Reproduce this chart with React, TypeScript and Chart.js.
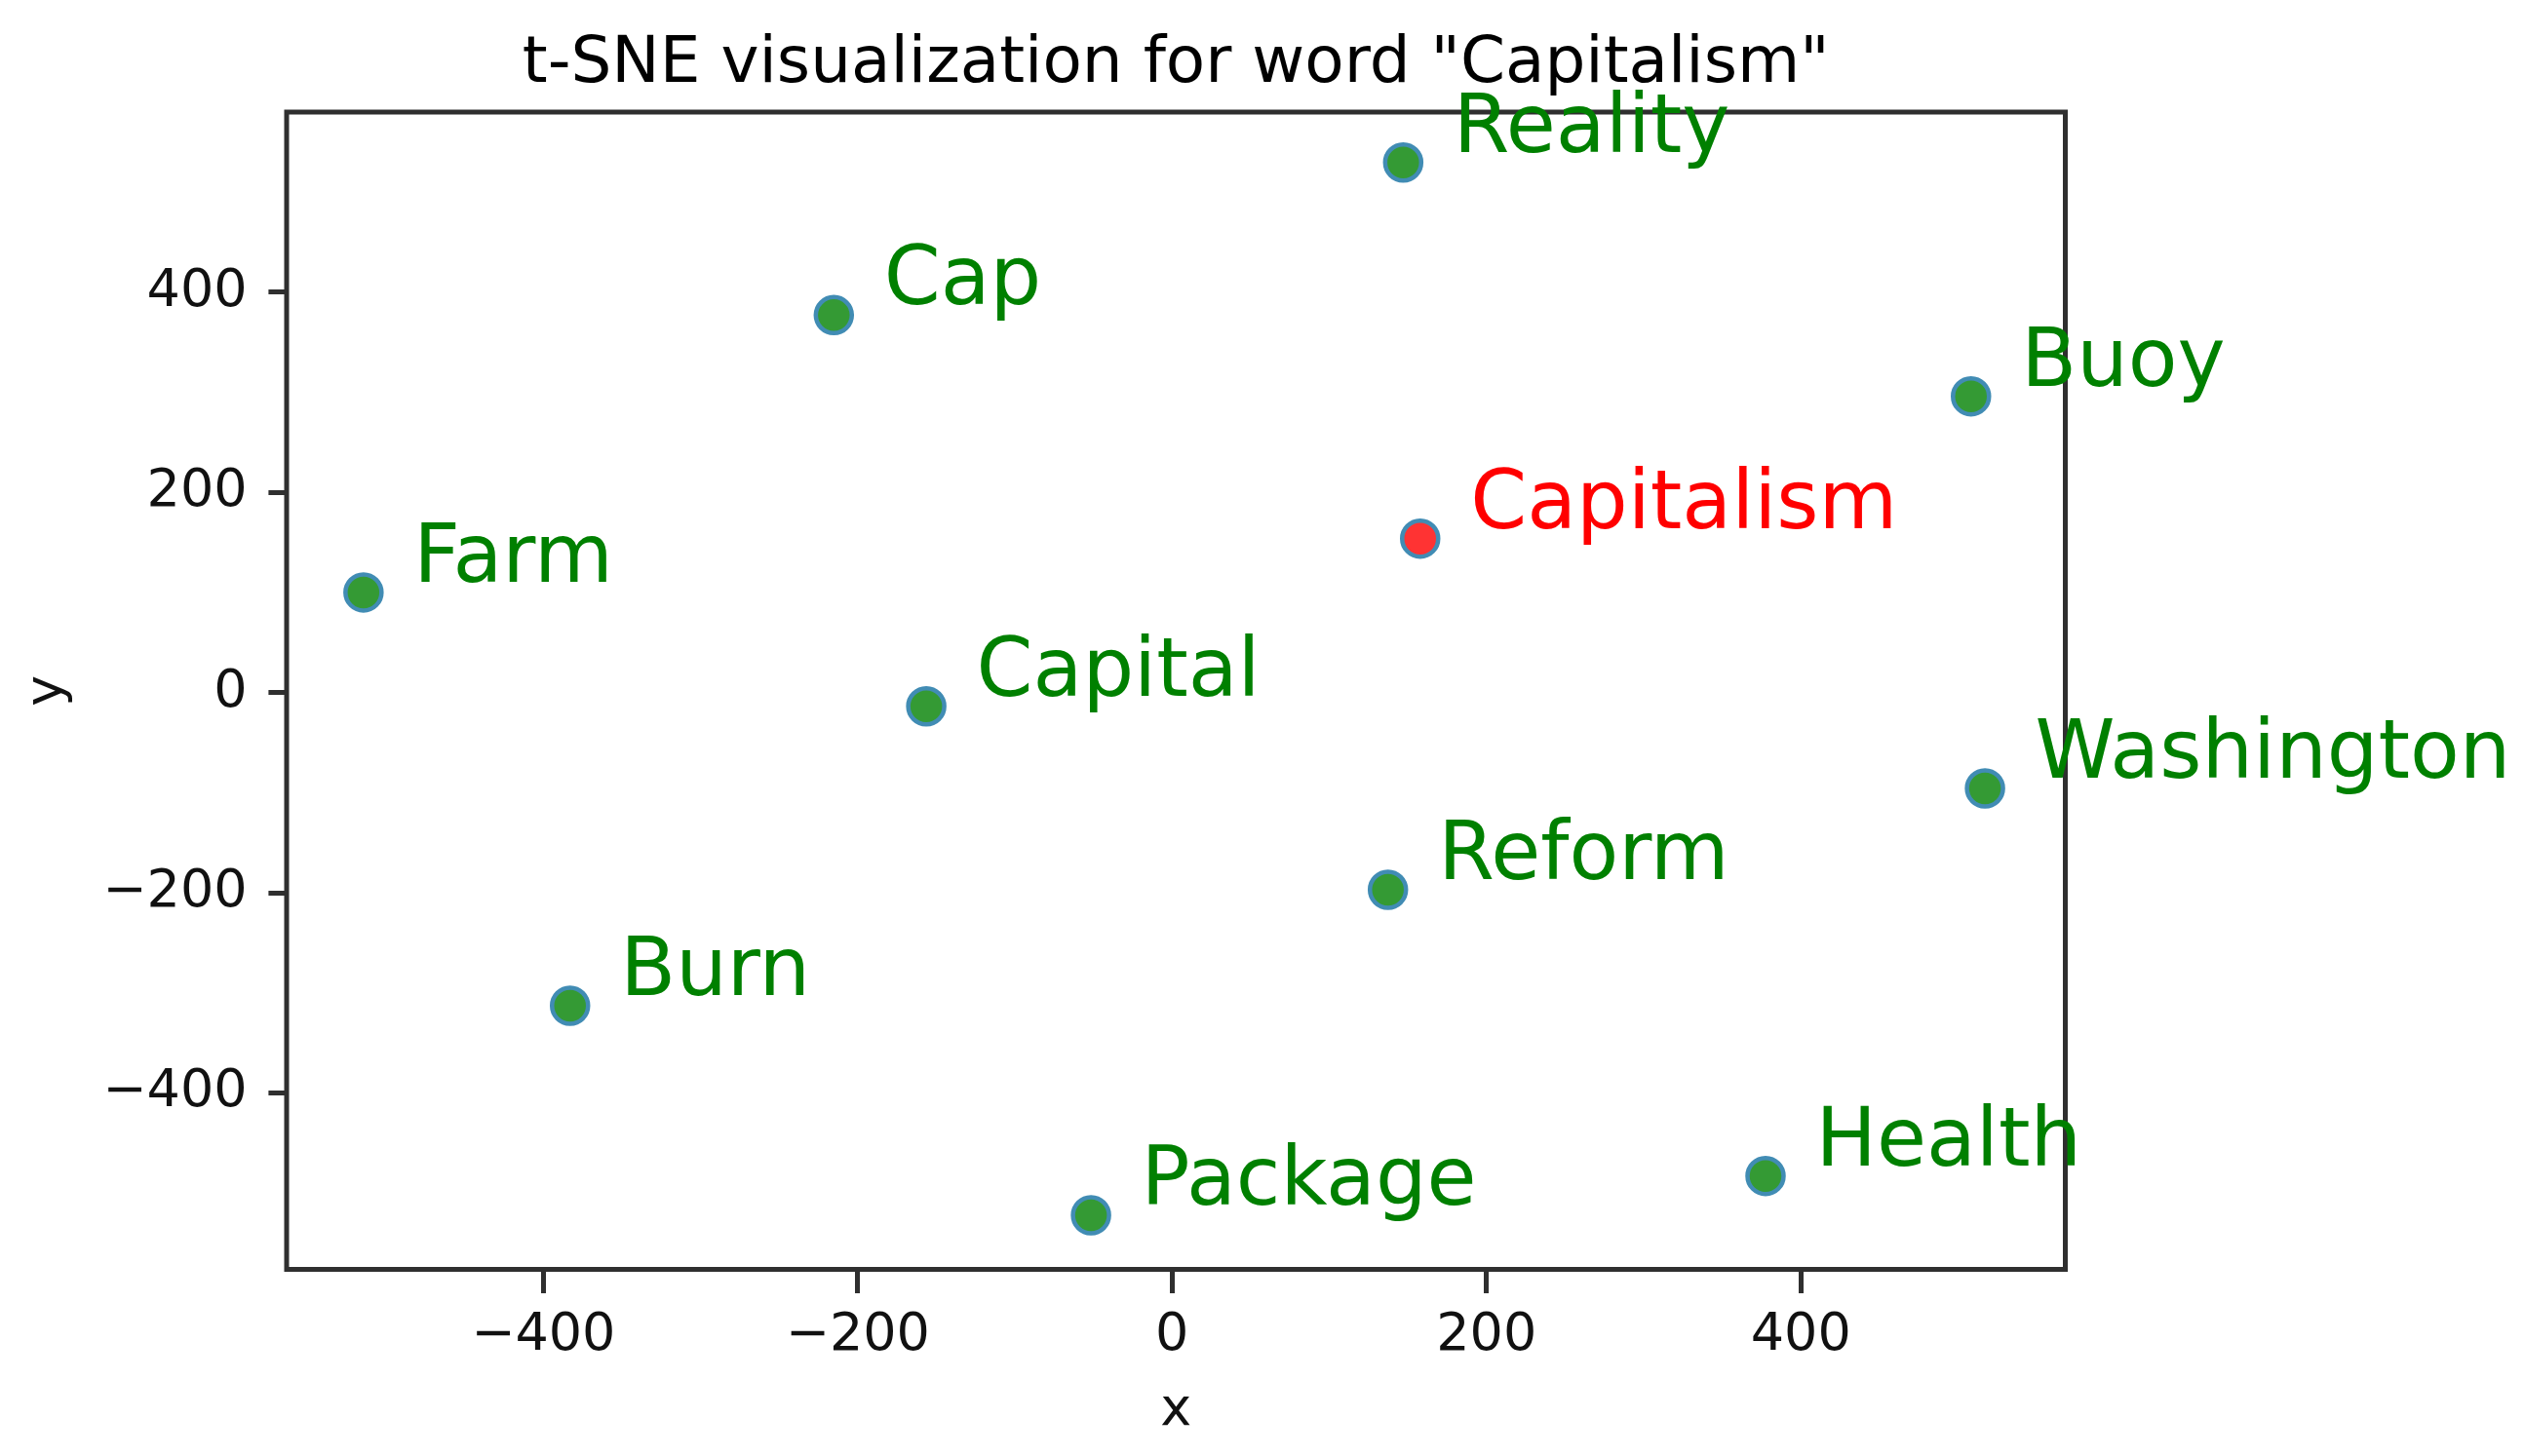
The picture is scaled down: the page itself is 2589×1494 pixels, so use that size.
import React, { useEffect, useRef } from 'react';
import { Chart, registerables } from 'chart.js';

Chart.register(...registerables);

// ---- data ----
const words = ['Reality', 'Cap', 'Buoy', 'Capitalism', 'Farm', 'Capital', 'Washington', 'Reform', 'Burn', 'Package', 'Health'];
const xValues = [147.0, -215.2, 508.2, 157.8, -514.4, -156.4, 517.1, 137.3, -383.0, -51.6, 377.5];
const yValues = [529.6, 377.1, 296.0, 153.8, 100.0, -13.7, -95.8, -197.0, -312.9, -522.3, -483.0];
const targetWord = 'Capitalism';
const xTicks = [-400, -200, 0, 200, 400];
const yTicks = [-400, -200, 0, 200, 400];
const xRange = [-563.3, 568.2];
const yRange = [-576.3, 580.0];
const titleText = 't-SNE visualization for word "Capitalism"';
const xLabel = 'x';
const yLabel = 'y';

// ---- styles ----
const FONT = '"DejaVu Sans"';
const W = 2589;
const H = 1494;
const SPINE = '#2f2f2f';
const GREEN_TEXT = '#008000';
const RED_TEXT = '#ff0000';
const GREEN_DOT = '#349a34';
const RED_DOT = '#ff3333';
const DOT_EDGE = '#418cb4';

const fmt = (v: number) => (v < 0 ? '\u2212' + Math.abs(v) : String(v));

const spinesAndLabels = {
  id: 'spinesAndLabels',
  beforeDatasetsDraw(chart: any) {
    const { ctx, chartArea } = chart;
    const { left, top, right, bottom } = chartArea;
    ctx.save();
    ctx.strokeStyle = SPINE;
    ctx.lineWidth = 5;
    ctx.strokeRect(left, top, right - left, bottom - top);
    ctx.restore();
  },
  afterDatasetsDraw(chart: any) {
    const { ctx } = chart;
    const meta = chart.getDatasetMeta(0);
    ctx.save();
    ctx.font = `83px ${FONT}`;
    ctx.textAlign = 'left';
    ctx.textBaseline = 'alphabetic';
    meta.data.forEach((pt: any, i: number) => {
      ctx.fillStyle = words[i] === targetWord ? RED_TEXT : GREEN_TEXT;
      ctx.fillText(words[i], pt.x + 51.5, pt.y - 11);
    });
    ctx.restore();
  },
};

export default function App() {
  const ref = useRef<HTMLCanvasElement | null>(null);

  useEffect(() => {
    if (!ref.current) return;
    const points = words.map((_, i) => ({ x: xValues[i], y: yValues[i] }));
    const chart = new Chart(ref.current, {
      type: 'scatter',
      data: {
        datasets: [
          {
            label: 'words',
            data: points,
            pointRadius: 18.5,
            pointHoverRadius: 18.5,
            pointBorderWidth: 4.5,
            pointBackgroundColor: words.map((w) => (w === targetWord ? RED_DOT : GREEN_DOT)),
            pointBorderColor: DOT_EDGE,
            clip: false,
          } as any,
        ],
      },
      options: {
        animation: false,
        responsive: false,
        maintainAspectRatio: false,
        devicePixelRatio: 1,
        events: [],
        layout: { padding: { top: 0, left: 0, right: W - 2118.5, bottom: 0 } },
        plugins: {
          legend: { display: false },
          tooltip: { enabled: false },
          title: {
            display: true,
            text: titleText,
            fullSize: false,
            color: '#000',
            font: { family: FONT, size: 66, weight: 'normal' },
            padding: { top: 27.6, bottom: 8.2 },
          },
        },
        scales: {
          x: {
            type: 'linear',
            min: xRange[0],
            max: xRange[1],
            afterBuildTicks: (s: any) => {
              s.ticks = xTicks.map((v) => ({ value: v }));
            },
            afterFit: (s: any) => {
              s.height = H - 1302.5;
            },
            grid: {
              drawOnChartArea: false,
              drawTicks: true,
              tickLength: 24.5,
              tickWidth: 5,
              tickColor: SPINE,
            },
            border: { display: false },
            ticks: {
              padding: 11.4,
              color: '#111',
              autoSkip: false,
              maxRotation: 0,
              font: { family: FONT, size: 54 },
              callback: (v: any) => fmt(Number(v)),
            },
            title: {
              display: true,
              text: xLabel,
              color: '#111',
              font: { family: FONT, size: 54 },
              padding: { top: 0, bottom: 13.3 },
            },
          },
          y: {
            type: 'linear',
            min: yRange[0],
            max: yRange[1],
            afterBuildTicks: (s: any) => {
              s.ticks = yTicks.map((v) => ({ value: v }));
            },
            afterFit: (s: any) => {
              s.width = 294;
            },
            grid: {
              drawOnChartArea: false,
              drawTicks: true,
              tickLength: 18.6,
              tickWidth: 5,
              tickColor: SPINE,
            },
            border: { display: false },
            ticks: {
              padding: 21.8,
              color: '#111',
              autoSkip: false,
              font: { family: FONT, size: 54 },
              callback: (v: any) => fmt(Number(v)),
            },
            title: {
              display: true,
              text: yLabel,
              color: '#111',
              font: { family: FONT, size: 54 },
              padding: { top: 16.7, bottom: 0 },
            },
          },
        },
      } as any,
      plugins: [spinesAndLabels],
    });
    return () => chart.destroy();
  }, []);

  return (
    <div style={{ position: 'absolute', left: 0, top: 0, width: W, height: H, background: '#fff' }}>
      <canvas ref={ref} width={W} height={H} style={{ display: 'block', width: W, height: H }} />
    </div>
  );
}
